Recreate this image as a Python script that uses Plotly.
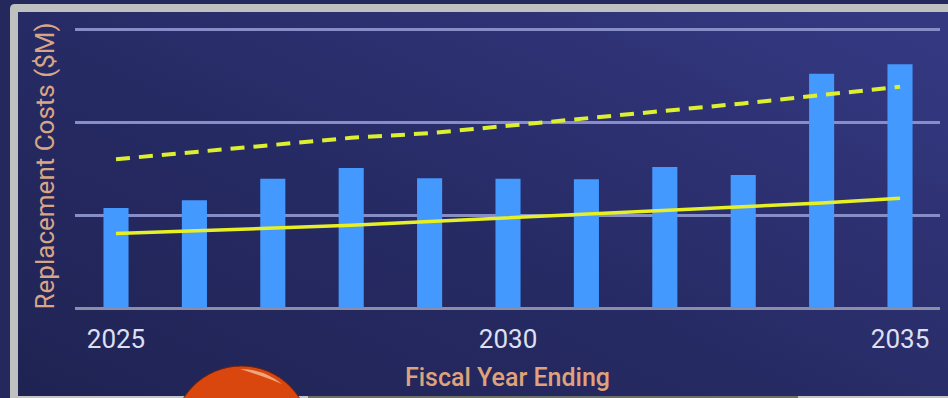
import base64
import plotly.graph_objects as go

W, H = 948, 398

years = [2025, 2026, 2027, 2028, 2029, 2030, 2031, 2032, 2033, 2034, 2035]
replacement_costs = [10.75, 11.6, 13.9, 15.05, 13.95, 13.9, 13.85, 15.15, 14.3, 25.2, 26.2]
lower_trend = [8.0, 8.3, 8.6, 8.9, 9.3, 9.7, 10.1, 10.5, 10.9, 11.3, 11.8]
upper_trend = [16.0, 16.8, 17.5, 18.3, 18.8, 19.6, 20.3, 21.1, 22.0, 22.9, 23.8]
tick_years = [2025, 2030, 2035]
tick_text = ["2025", "2030", "2035"]
grid_values = [0, 10, 20, 30]


def px(x):
    return x / W


def py(y):
    return 1 - y / H


panel_svg = (
    f'<svg xmlns="http://www.w3.org/2000/svg" width="{W}" height="{H}">'
    '<defs><linearGradient id="g" x1="0" y1="1" x2="1" y2="0.1">'
    '<stop offset="0" stop-color="#1f2353"/>'
    '<stop offset="0.5" stop-color="#272b65"/>'
    '<stop offset="1" stop-color="#343881"/>'
    '</linearGradient></defs>'
    f'<rect width="{W}" height="{H}" fill="url(#g)"/></svg>'
)
panel_src = "data:image/svg+xml;base64," + base64.b64encode(panel_svg.encode()).decode()

fig = go.Figure()
fig.add_bar(x=years, y=replacement_costs, width=0.32, marker=dict(color="#4499ff", line_width=0),
            showlegend=False)
fig.add_scatter(x=years, y=lower_trend, mode="lines", line=dict(color="#e6f024", width=3.5),
                showlegend=False)
fig.add_scatter(x=years, y=upper_trend, mode="lines",
                line=dict(color="#dcf030", width=4, dash="14px,9px"), showlegend=False)


def to_paper_path(cmds):
    """Turn (command, x, y, ...) tuples given in pixels into an SVG path."""
    parts = []
    for c in cmds:
        if c[0] == "Z":
            parts.append("Z")
            continue
        nums = []
        for i in range(1, len(c), 2):
            nums.append(f"{px(c[i]):.5f},{py(c[i + 1]):.5f}")
        parts.append(c[0] + " ".join(nums))
    return " ".join(parts)


frame = to_paper_path([("M", 10, 398), ("L", 10, 9), ("Q", 10, 4, 15, 4), ("L", 948, 4),
                       ("L", 948, 12), ("L", 18, 12), ("L", 18, 398), ("Z",)])
glint = to_paper_path([("M", 240, 369), ("Q", 264, 369, 282, 384), ("Q", 266, 377, 240, 369), ("Z",)])

shapes = [
    dict(type="path", path=frame, xref="paper", yref="paper", fillcolor="#bfc0c0", line_width=0),
    dict(type="rect", xref="paper", yref="paper", x0=px(18), x1=px(308), y0=py(398), y1=py(396),
         fillcolor="#c4c5c4", line_width=0),
    dict(type="rect", xref="paper", yref="paper", x0=px(308), x1=px(798), y0=py(398), y1=py(396),
         fillcolor="#6e7068", line_width=0),
    dict(type="rect", xref="paper", yref="paper", x0=px(798), x1=px(948), y0=py(398), y1=py(396),
         fillcolor="#c4c5c4", line_width=0),
    dict(type="circle", xref="paper", yref="paper", x0=px(173), x1=px(310), y0=py(435 + 68.5), y1=py(366),
         fillcolor="#d9470e", line=dict(color="#6e2210", width=1)),
    dict(type="path", path=glint, xref="paper", yref="paper", fillcolor="#f3b78e", line_width=0,
         opacity=0.85),
]

fig.update_layout(
    width=W,
    height=H,
    margin=dict(l=0, r=0, t=0, b=0),
    autosize=False,
    paper_bgcolor="#24285c",
    plot_bgcolor="rgba(0,0,0,0)",
    bargap=0.68,
    shapes=shapes,
    images=[dict(source=panel_src, xref="paper", yref="paper", x=px(18), y=py(12),
                 sizex=px(930), sizey=(396 - 12) / H, sizing="stretch",
                 xanchor="left", yanchor="top", layer="below")],
    xaxis=dict(
        domain=[px(75), px(940)],
        range=[2024.477, 2035.51],
        tickmode="array",
        tickvals=tick_years,
        ticktext=tick_text,
        showgrid=False,
        zeroline=False,
        ticks="",
        ticklen=0,
        ticklabelstandoff=13,
        tickfont=dict(family="Roboto", size=26, color="#dde0f2"),
        title=dict(text="Fiscal Year Ending", standoff=15,
                   font=dict(family="Roboto", size=25, color="#dfa27a", weight=500)),
        automargin=False,
    ),
    yaxis=dict(
        # headroom above the top gridline keeps it from being clipped at the axis end
        domain=[py(308), py(24)],
        range=[0, 30.54],
        tickmode="array",
        tickvals=grid_values,
        showticklabels=False,
        ticks="",
        showgrid=True,
        gridcolor="#878dc6",
        gridwidth=2.5,
        zeroline=True,
        zerolinecolor="#8c8ea8",
        zerolinewidth=3,
        title=dict(text="Replacement Costs ($M)", standoff=11,
                   font=dict(family="Roboto", size=26, color="#d8a686")),
        automargin=False,
    ),
)

fig.write_html("out.html", config=dict(displayModeBar=False))
